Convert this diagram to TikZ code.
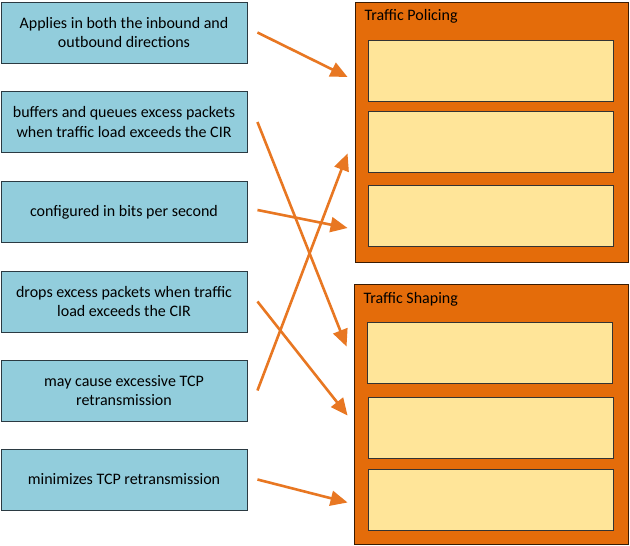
\documentclass[tikz,border=0pt]{standalone}
\usepackage{fontspec}
\setmainfont{Carlito}
\usetikzlibrary{arrows.meta,calc}
\definecolor{Sky}{HTML}{92CDDC}
\definecolor{Rust}{HTML}{E46C0A}
\definecolor{Sand}{HTML}{FFE599}
\definecolor{Edge}{HTML}{2B3A42}
\definecolor{Flame}{HTML}{E87722}

\tikzset{
  card/.style={draw=Edge,line width=0.9pt,fill=Sky,minimum width=246pt,minimum height=61pt,
    align=center,inner sep=0pt,font=\fontsize{16}{19.5}\selectfont},
  panel/.style={draw=black!75!Rust,line width=0.9pt,fill=Rust,minimum width=273pt,minimum height=260pt,inner sep=0pt},
  slot/.style={draw=black!80,line width=0.9pt,fill=Sand,minimum width=245pt,minimum height=61pt,inner sep=0pt},
  link/.style={line width=2.6pt,Flame,-{Triangle[length=17pt,width=15pt]}},
}

\begin{document}
\begin{tikzpicture}[x=1pt,y=-1pt]
    \useasboundingbox[fill=white] (0,0) rectangle (630,546);
    % statements
    \node[card] (c1) at (124,32.5) {Applies in both the inbound and\\outbound directions};
    \node[card] (c2) at (124,122) {buffers and queues excess packets\\when traffic load exceeds the CIR};
    \node[card] (c3) at (124,212) {configured in bits per second};
    \node[card] (c4) at (124,301.5) {drops excess packets when traffic\\load exceeds the CIR};
    \node[card] (c5) at (124,390.5) {may cause excessive TCP\\retransmission};
    \node[card] (c6) at (124,479.5) {minimizes TCP retransmission};
    % target panels
    \node[panel] (pol) at (491.5,132) {};
    \node[panel,minimum width=274pt] (shp) at (491,414) {};
    \node[anchor=base west,font=\fontsize{16}{19}\selectfont] (polt) at (361,20) {Traffic Policing};
    \node[anchor=base west,font=\fontsize{16}{19}\selectfont] (shpt) at (360,303) {Traffic Shaping};
    \node[slot] (p1) at (490.5,70.5) {};
    \node[slot] (p2) at (490.5,141.5) {};
    \node[slot] (p3) at (490.5,216) {};
    \node[slot] (s1) at (489.5,352.5) {};
    \node[slot] (s2) at (490.5,427.5) {};
    \node[slot] (s3) at (490.5,499.5) {};
    % matches
    \draw[link] ($(c1.east)+(10,0)$) -- ($(p1.west)+(-20,6.5)$);
    \draw[link] ($(c2.east)+(10,0)$) -- ($(s1.west)+(-20,-6)$);
    \draw[link] ($(c3.east)+(10,-2)$) -- ($(p3.west)+(-20,12)$);
    \draw[link] ($(c4.east)+(10,0)$) -- ($(s2.west)+(-20,-12)$);
    \draw[link] ($(c5.east)+(10,0)$) -- ($(p2.west)+(-20,12)$);
    \draw[link] ($(c6.east)+(10,0)$) -- ($(s3.west)+(-20,3)$);
\end{tikzpicture}
\end{document}
